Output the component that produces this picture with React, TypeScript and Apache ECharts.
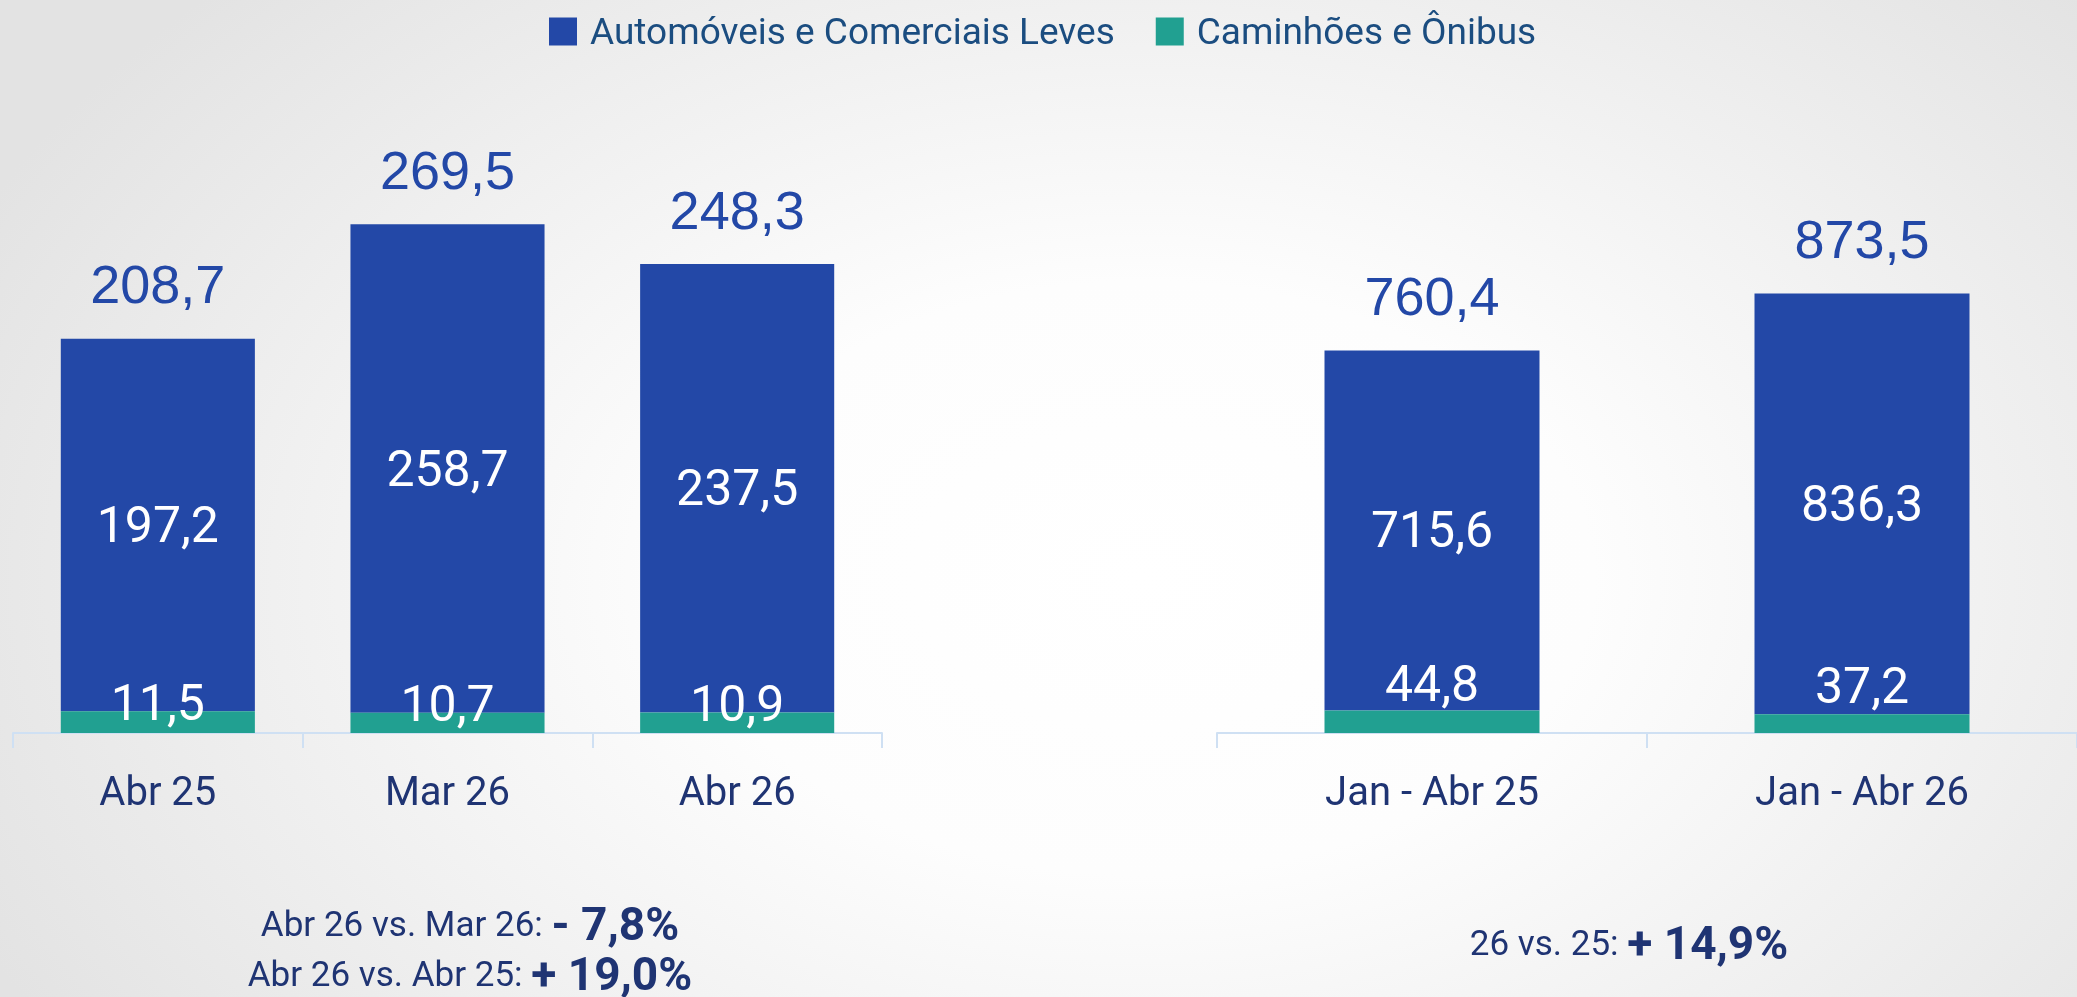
import React, { useEffect, useRef } from "react";
import * as echarts from "echarts";

// ---------- Data ----------
const monthCategories = ["Abr 25", "Mar 26", "Abr 26"];
const monthCars = [197.2, 258.7, 237.5];
const monthTrucks = [11.5, 10.7, 10.9];
const monthTotals = [208.7, 269.5, 248.3];

const ytdCategories = ["Jan - Abr 25", "Jan - Abr 26"];
const ytdCars = [715.6, 836.3];
const ytdTrucks = [44.8, 37.2];
const ytdTotals = [760.4, 873.5];

const seriesNames = ["Automóveis e Comerciais Leves", "Caminhões e Ônibus"];

const monthNotes = [
  ["Abr 26 vs. Mar 26: ", "- 7,8%"],
  ["Abr 26 vs. Abr 25: ", "+ 19,0%"],
];
const ytdNote = ["26 vs. 25: ", "+ 14,9%"];

// ---------- Styles ----------
const BLUE = "#2348a7";
const GREEN = "#21a091";
const NAVY = "#1f3473";
const LEGEND_TEXT = "#1b4d80";
const AXIS_LINE = "#cfe0f3";
const NUM_FONT = "Roboto, 'Noto Sans', sans-serif";
const TOTAL_FONT = "'Liberation Sans', Arial, sans-serif";

const fmt = (v: number) => v.toFixed(1).replace(".", ",");

function buildSeries(
  axisIndex: number,
  cars: number[],
  trucks: number[],
  totals: number[],
  barWidth: string,
  truckOffset: number
) {
  const stack = "s" + axisIndex;
  return [
    {
      name: seriesNames[1],
      type: "bar",
      xAxisIndex: axisIndex,
      yAxisIndex: axisIndex,
      stack,
      barWidth,
      data: trucks,
      itemStyle: { color: GREEN },
      label: {
        show: true,
        position: "inside",
        offset: [0, truckOffset],
        color: "#ffffff",
        fontFamily: NUM_FONT,
        fontSize: 50,
        formatter: (p: any) => fmt(p.value),
      },
      z: 3,
    },
    {
      name: seriesNames[0],
      type: "bar",
      xAxisIndex: axisIndex,
      yAxisIndex: axisIndex,
      stack,
      barWidth,
      data: cars,
      itemStyle: { color: BLUE },
      label: {
        show: true,
        position: "inside",
        color: "#ffffff",
        fontFamily: NUM_FONT,
        fontSize: 50,
        formatter: (p: any) => fmt(p.value),
      },
      z: 2,
    },
    {
      name: "Total",
      type: "scatter",
      xAxisIndex: axisIndex,
      yAxisIndex: axisIndex,
      data: totals,
      symbolSize: 1,
      itemStyle: { color: "rgba(0,0,0,0)", opacity: 1 },
      silent: true,
      label: {
        show: true,
        position: "top",
        distance: 27,
        color: "#2348a7",
        opacity: 1,
        fontFamily: TOTAL_FONT,
        fontSize: 54,
        formatter: (p: any) => fmt(p.value),
      },
      z: 4,
    },
  ];
}

function xAxisFor(gridIndex: number, data: string[]) {
  return {
    type: "category",
    gridIndex,
    data,
    boundaryGap: true,
    axisLine: { show: true, lineStyle: { color: AXIS_LINE, width: 2 } },
    axisTick: {
      show: true,
      alignWithLabel: false,
      length: 15,
      lineStyle: { color: AXIS_LINE, width: 2 },
    },
    axisLabel: {
      color: NAVY,
      fontFamily: NUM_FONT,
      fontSize: 40,
      margin: 38,
    },
    splitLine: { show: false },
  };
}

export default function App() {
  const ref = useRef<HTMLDivElement>(null);

  useEffect(() => {
    if (!ref.current) return;
    const chart = echarts.init(ref.current, undefined, { renderer: "svg" });

    const richNote = {
      r: { fontFamily: NUM_FONT, fontSize: 35, fill: NAVY, color: NAVY },
      b: { fontFamily: NUM_FONT, fontSize: 46, fontWeight: "bold", fill: NAVY, color: NAVY },
    };

    const option: any = {
      animation: false,
      backgroundColor: "transparent",
      legend: {
        data: seriesNames,
        left: 544,
        top: 8,
        itemWidth: 28,
        itemHeight: 28,
        itemGap: 41,
        icon: "rect",
        textStyle: {
          color: LEGEND_TEXT,
          fontFamily: NUM_FONT,
          fontSize: 37,
          padding: [0, 0, 0, 8],
        },
        selectedMode: false,
      },
      grid: [
        { left: 13, width: 869, top: 72, bottom: 264, containLabel: false },
        { left: 1217, width: 868, top: 79, bottom: 264, containLabel: false },
      ],
      xAxis: [xAxisFor(0, monthCategories), xAxisFor(1, ytdCategories)],
      yAxis: [
        { type: "value", gridIndex: 0, min: 0, max: 350, show: false, splitLine: { show: false } },
        { type: "value", gridIndex: 1, min: 0, max: 1300, show: false, splitLine: { show: false } },
      ],
      series: [
        ...buildSeries(0, monthCars, monthTrucks, monthTotals, "67%", -19),
        ...buildSeries(1, ytdCars, ytdTrucks, ytdTotals, "50%", -38),
      ],
      graphic: [
        {
          type: "text",
          x: 470,
          y: 924,
          style: {
            text: `{r|${monthNotes[0][0]}}{b|${monthNotes[0][1]}}`,
            rich: richNote,
            fill: NAVY,
            align: "center",
            verticalAlign: "middle",
          },
        },
        {
          type: "text",
          x: 470,
          y: 974,
          style: {
            text: `{r|${monthNotes[1][0]}}{b|${monthNotes[1][1]}}`,
            rich: richNote,
            fill: NAVY,
            align: "center",
            verticalAlign: "middle",
          },
        },
        {
          type: "text",
          x: 1629,
          y: 943,
          style: {
            text: `{r|${ytdNote[0]}}{b|${ytdNote[1]}}`,
            rich: richNote,
            fill: NAVY,
            align: "center",
            verticalAlign: "middle",
          },
        },
      ],
    };

    chart.setOption(option);
    return () => {
      chart.dispose();
    };
  }, []);

  return (
    <div
      style={{
        position: "fixed",
        left: 0,
        top: 0,
        width: 2077,
        height: 997,
        overflow: "hidden",
        background:
          "radial-gradient(ellipse 62% 85% at 55% 58%, #ffffff 0%, #fdfdfd 35%, #f1f1f1 65%, #e3e3e3 100%)",
      }}
    >
      <div ref={ref} style={{ width: 2077, height: 997 }} />
    </div>
  );
}
